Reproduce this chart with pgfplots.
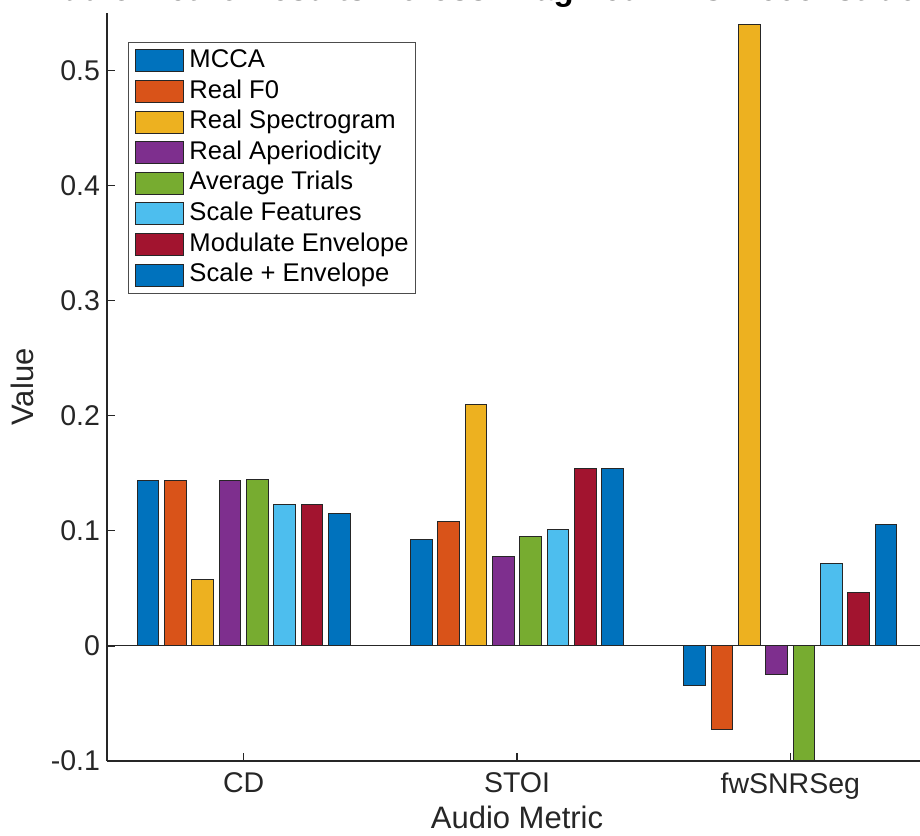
\documentclass[border=0pt]{standalone}
\usepackage{pgfplots}
\usepackage{pgfplotstable}
\pgfplotsset{compat=1.18}
\usepackage{fontspec}
\setmainfont{Liberation Sans}

% MATLAB default colour order
\definecolor{mA}{rgb}{0,0.447,0.741}
\definecolor{mB}{rgb}{0.85,0.325,0.098}
\definecolor{mC}{rgb}{0.929,0.694,0.125}
\definecolor{mD}{rgb}{0.494,0.184,0.556}
\definecolor{mE}{rgb}{0.466,0.674,0.188}
\definecolor{mF}{rgb}{0.301,0.745,0.933}
\definecolor{mG}{rgb}{0.635,0.078,0.184}
\definecolor{axgray}{rgb}{0.15,0.15,0.15}

% rows: CD, STOI, fwSNRSeg
\pgfplotstableread{
x  mcca     f0       spec    aper     avg      scale   modenv  scaleenv
1  0.1435   0.1440   0.0575  0.1440   0.1450   0.1225  0.1225  0.1155
2  0.0926   0.1077   0.2100  0.0778   0.0952   0.1008  0.1540  0.1540
3  -0.0346  -0.0726  0.5400  -0.0247  -0.0995  0.0714  0.0464  0.1057
}\metrics

\pgfplotsset{
  swatch/.style={legend image code/.code={%
    \path (-2.5pt,0pt);
    \draw[##1,/tikz/.cd,line width=0.5pt] (0pt,-5.5pt) rectangle (24pt,5.5pt);}},
  mbar/.style={ybar, bar width=0.08, fill=#1, draw=black!85, line width=0.5pt, swatch},
}

\begin{document}
\begin{tikzpicture}
\useasboundingbox (-53.5pt,-37pt) rectangle (406.5pt,380.5pt);
\clip (-53.5pt,-37pt) rectangle (406.5pt,380.5pt);
\begin{axis}[
  at={(0pt,0pt)}, anchor=south west,
  width=410pt, height=374pt, scale only axis,
  xmin=0.5, xmax=3.5, ymin=-0.1, ymax=0.55,
  axis x line*=bottom, axis y line*=left,
  axis line style={-, draw=axgray, line width=0.6pt},
  tick align=inside, major tick length=3.8pt,
  tick style={draw=axgray, line width=0.6pt},
  xtick={1,2,3}, xticklabels={CD,STOI,fwSNRSeg},
  ytick={-0.1,0,0.1,0.2,0.3,0.4,0.5},
  yticklabels={-0.1,0,0.1,0.2,0.3,0.4,0.5},
  tick label style={font=\fontsize{14.25}{16}\selectfont, text=axgray},
  xticklabel style={yshift=-2.3pt},
  xlabel={Audio Metric},
  ylabel={Value},
  label style={font=\fontsize{15.5}{18}\selectfont, text=axgray},
  xlabel style={at={(axis description cs:0.5,0)}, anchor=north, yshift=-18.8pt},
  ylabel style={at={(axis description cs:-0.0902,0.5)}, anchor=base},
  every axis title shift=0pt,
  title={Audio Metric Results Across Imagined MEG Reconstructions},
  title style={at={(axis description cs:0.5,1)}, anchor=base, yshift=6pt,
    font=\bfseries\fontsize{16.5}{19}\selectfont},
  legend style={at={(0.0256,0.961)}, anchor=north west,
    draw=black!70, line width=0.5pt, fill=white,
    inner xsep=1pt, inner ysep=1.5pt,
    row sep=0pt, column sep=0pt,
    font=\fontsize{12.8}{15}\selectfont,
    nodes={inner xsep=2.5pt, inner ysep=1.65pt, text height=9.3pt, text depth=2.7pt},
    cells={anchor=west}},
]
\addplot[mbar=mA, bar shift=-0.35] table[x=x,y=mcca]{\metrics};
\addlegendentry{MCCA}
\addplot[mbar=mB, bar shift=-0.25] table[x=x,y=f0]{\metrics};
\addlegendentry{Real F0}
\addplot[mbar=mC, bar shift=-0.15] table[x=x,y=spec]{\metrics};
\addlegendentry{Real Spectrogram}
\addplot[mbar=mD, bar shift=-0.05] table[x=x,y=aper]{\metrics};
\addlegendentry{Real Aperiodicity}
\addplot[mbar=mE, bar shift=0.05] table[x=x,y=avg]{\metrics};
\addlegendentry{Average Trials}
\addplot[mbar=mF, bar shift=0.15] table[x=x,y=scale]{\metrics};
\addlegendentry{Scale Features}
\addplot[mbar=mG, bar shift=0.25] table[x=x,y=modenv]{\metrics};
\addlegendentry{Modulate Envelope}
\addplot[mbar=mA, bar shift=0.35] table[x=x,y=scaleenv]{\metrics};
\addlegendentry{Scale + Envelope}
% bar baseline at zero
\draw[axgray, line width=0.5pt] (axis cs:0.5,0) -- (axis cs:3.5,0);
\end{axis}
\end{tikzpicture}
\end{document}
